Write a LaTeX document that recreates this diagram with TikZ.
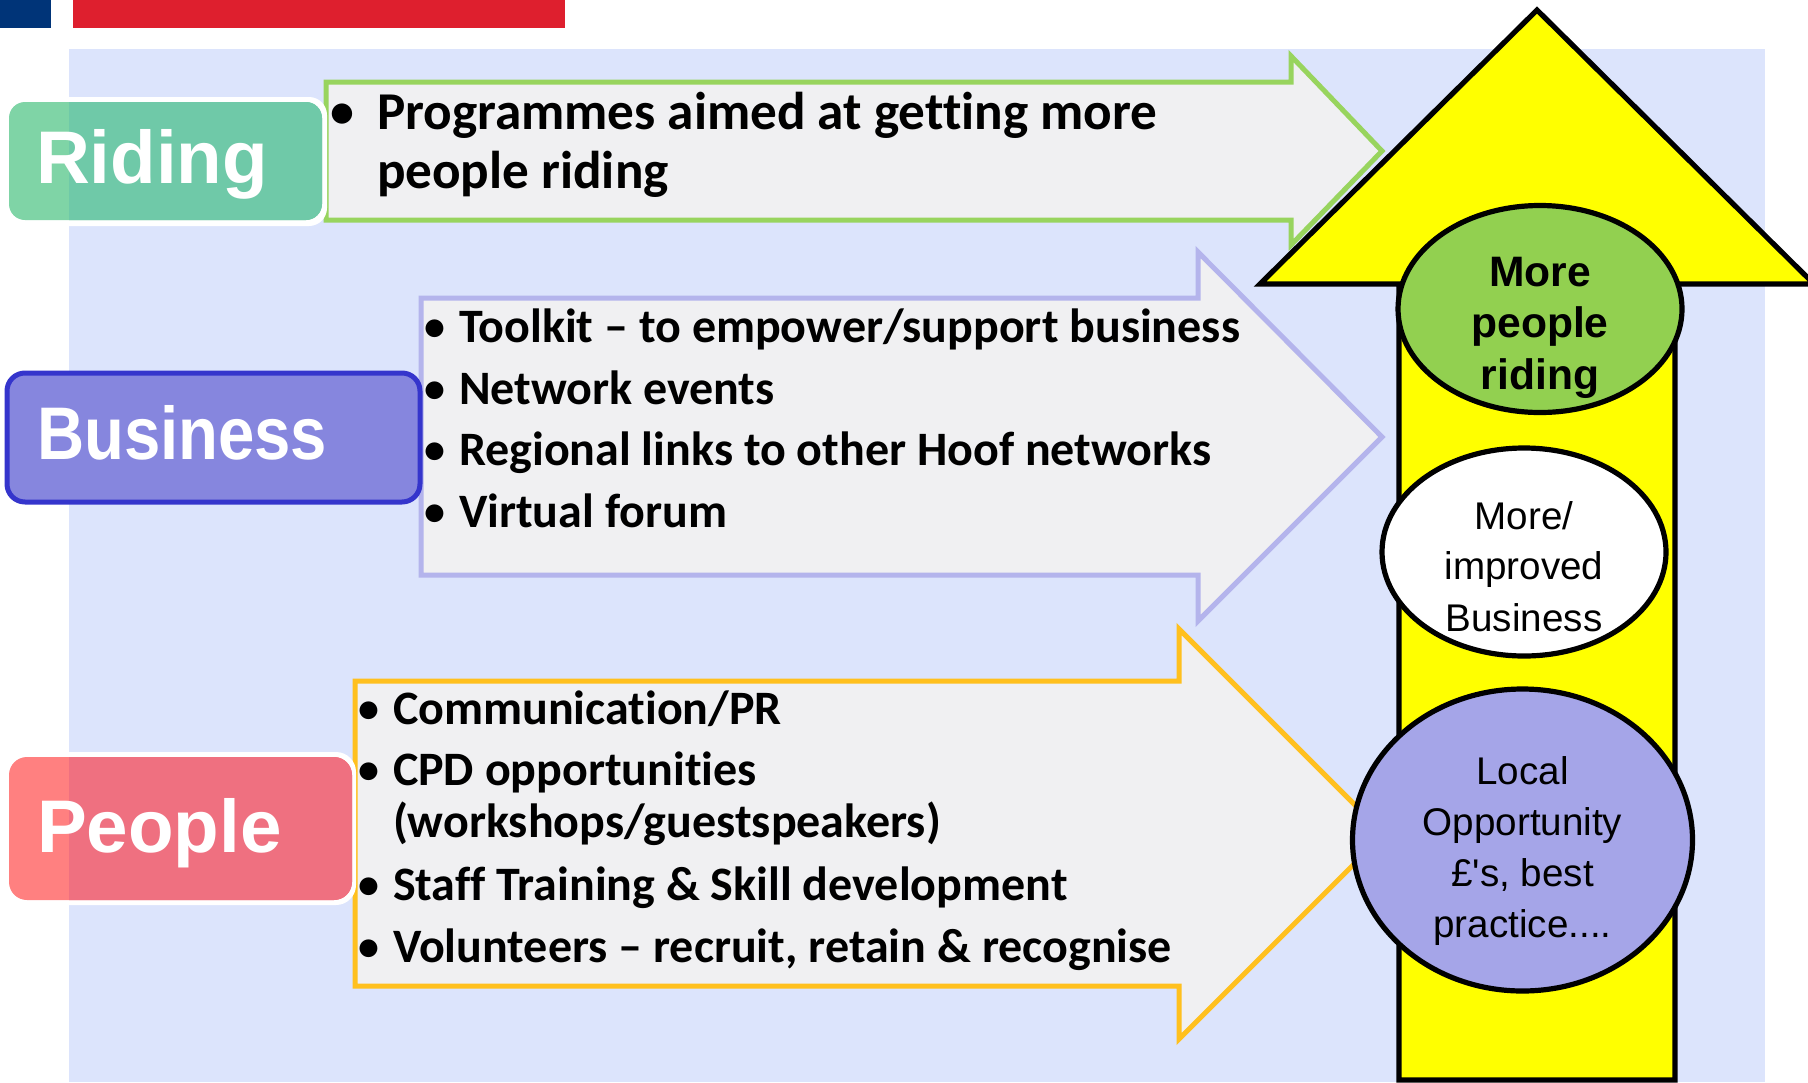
\documentclass[tikz,border=0pt]{standalone}
\usepackage{fontspec}
\setmainfont{Liberation Sans}
\newfontfamily\calfont{Carlito}[Ligatures=NoCommon]
\newfontfamily\arifont{Liberation Sans}
\definecolor{bgblue}{HTML}{DCE4FC}
\definecolor{barblue}{HTML}{003478}
\definecolor{barred}{HTML}{DE1F2E}
\definecolor{arrowfill}{HTML}{F0F0F2}
\definecolor{greenline}{HTML}{98D45E}
\definecolor{blueline}{HTML}{B4B4EC}
\definecolor{orangeline}{HTML}{FFC01E}
\definecolor{teallight}{HTML}{7FD4A6}
\definecolor{tealbox}{HTML}{6FC9A8}
\definecolor{redlight}{HTML}{FF8080}
\definecolor{redbox}{HTML}{EF7080}
\definecolor{busfill}{HTML}{8686DE}
\definecolor{busline}{HTML}{3535CC}
\definecolor{ellgreen}{HTML}{92D050}
\definecolor{ellblue}{HTML}{A5A5E8}
\definecolor{arrowyellow}{RGB}{255,255,0}
\tikzset{
  x=0.5pt,y=-0.5pt,
  sidearrow/.style={fill=arrowfill,line width=2.5pt,miter limit=10},
  ell/.style={draw=black,line width=2.6pt},
  boxlabel/.style={anchor=base west,inner sep=0pt,outer sep=0pt,text=white,font=\arifont\bfseries\fontsize{37.3}{37}\selectfont},
  itemtext/.style={anchor=base west,inner sep=0pt,outer sep=0pt,font=\calfont\bfseries\fontsize{24}{28}\selectfont},
  bigitem/.style={itemtext,font=\calfont\bfseries\fontsize{26.6}{31}\selectfont},
  dot/.style={anchor=base,inner sep=0pt,outer sep=0pt,font=\calfont\bfseries\fontsize{21}{25}\selectfont},
  elltext/.style={anchor=base,inner sep=0pt,outer sep=0pt,font=\arifont\fontsize{19.3}{25.5}\selectfont},
  elltextb/.style={elltext,font=\arifont\bfseries\fontsize{21.3}{25.5}\selectfont},
}
\begin{document}
\begin{tikzpicture}
\useasboundingbox (0,0) rectangle (1808,1082);
\fill[white] (0,0) rectangle (1808,1082);
\fill[bgblue] (69,49) rectangle (1765,1082);
\fill[barblue] (0,0) rectangle (51,28);
\fill[barred] (73,0) rectangle (565,28);
% side arrows
\draw[sidearrow,draw=greenline] (326,82) -- (1291,82) -- (1291,56) -- (1382,151) -- (1291,245) -- (1291,220) -- (326,220) -- cycle;
\draw[sidearrow,draw=blueline] (421,298) -- (1198,298) -- (1198,252) -- (1382,437) -- (1198,621) -- (1198,575) -- (421,575) -- cycle;
\draw[sidearrow,draw=orangeline] (355,681) -- (1179,681) -- (1179,629) -- (1384,834) -- (1179,1039) -- (1179,986) -- (355,986) -- cycle;
% left boxes
\fill[white,rounded corners=9pt] (5,97) rectangle (327,226);
\fill[teallight,rounded corners=8pt] (9,102) rectangle (322,220);
\begin{scope}
\clip (69,0) rectangle (1808,1082);
\fill[tealbox,rounded corners=8pt] (9,102) rectangle (322,220);
\end{scope}
\fill[white,rounded corners=10pt] (5,752) rectangle (356,905);
\fill[redlight,rounded corners=9pt] (9,757) rectangle (352,900);
\begin{scope}
\clip (69,0) rectangle (1808,1082);
\fill[redbox,rounded corners=9pt] (9,757) rectangle (352,900);
\end{scope}
\draw[fill=busfill,draw=busline,line width=2.5pt,rounded corners=9pt] (7,373) rectangle (420,502);
\node[boxlabel] (riding) at (36,183) {Riding};
\node[boxlabel] (business) at (37,459) {\scalebox{0.875}[1]{Business}};
\node[boxlabel] (people) at (37,852) {People};
% item texts
\node[dot,font=\calfont\bfseries\fontsize{24}{29}\selectfont] (d1) at (342,127) {•};
\node[bigitem] (t1a) at (377,129) {Programmes aimed at getting more};
\node[bigitem] (t1b) at (377,188) {people riding};
\node[dot] (d2) at (435,340) {•};
\node[itemtext] (t2) at (459,342) {Toolkit – to empower/support business};
\node[dot] (d3) at (435,402) {•};
\node[itemtext] (t3) at (459,404) {Network events};
\node[dot] (d4) at (435,463) {•};
\node[itemtext] (t4) at (459,465) {Regional links to other Hoof networks};
\node[dot] (d5) at (435,525) {•};
\node[itemtext] (t5) at (459,527) {Virtual forum};
\node[dot] (d6) at (369,722) {•};
\node[itemtext] (t6) at (393,724) {Communication/PR};
\node[dot] (d7) at (369,783) {•};
\node[itemtext] (t7) at (393,785) {CPD opportunities};
\node[itemtext] (t7b) at (393,837) {(workshops/guestspeakers)};
\node[dot] (d8) at (369,898) {•};
\node[itemtext] (t8) at (393,900) {Staff Training \& Skill development};
\node[dot] (d9) at (369,960) {•};
\node[itemtext] (t9) at (393,962) {Volunteers – recruit, retain \& recognise};
% yellow arrow
\draw[fill=arrowyellow,draw=black,line width=2.6pt,miter limit=10] (1537,10) -- (1814,284) -- (1675,284) -- (1675,1080) -- (1399,1080) -- (1399,284) -- (1260,284) -- cycle;
% ellipses
\draw[ell,fill=ellgreen] (1540,309) ellipse [x radius=142,y radius=103.5];
\node[elltextb] (m1) at (1540,286) {More};
\node[elltextb] (m2) at (1540,337) {people};
\node[elltextb] (m3) at (1540,389) {riding};
\draw[ell,fill=white] (1524,552) ellipse [x radius=142,y radius=104];
\node[elltext] (b1) at (1524,529) {More/};
\node[elltext] (b2) at (1524,579) {improved};
\node[elltext] (b3) at (1524,631) {Business};
\draw[ell,fill=ellblue] (1522.5,840) ellipse [x radius=170,y radius=151];
\node[elltext] (l1) at (1522.5,784) {Local};
\node[elltext] (l2) at (1522.5,835) {Opportunity};
\node[elltext] (l3) at (1522.5,886) {£'s, best};
\node[elltext] (l4) at (1522.5,937) {practice....};
\end{tikzpicture}
\end{document}
